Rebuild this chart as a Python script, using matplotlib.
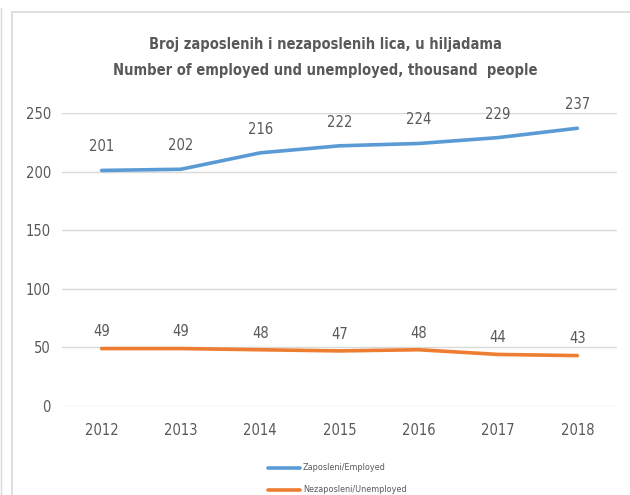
import matplotlib.pyplot as plt
from matplotlib.patches import Rectangle
from matplotlib.lines import Line2D

years = ['2012', '2013', '2014', '2015', '2016', '2017', '2018']
employed = [201, 202, 216, 222, 224, 229, 237]
unemployed = [49, 49, 48, 47, 48, 44, 43]

plt.rcParams['font.family'] = ['DejaVu Sans']
plt.rcParams['font.stretch'] = 'condensed'
grey = '#595959'
blue = '#5b9bd5'
orange = '#ed7d31'

fig = plt.figure(figsize=(6.3, 4.95), dpi=100)
ax = fig.add_axes([62/630, 1 - 406/495, 555/630, 293/495])

x = range(len(years))
ax.plot(x, employed, color=blue, linewidth=2.6, solid_capstyle='round')
ax.plot(x, unemployed, color=orange, linewidth=2.6, solid_capstyle='round')

for i in x:
    ax.annotate(str(employed[i]), (i, employed[i]), xytext=(0, 17), textcoords='offset points',
                ha='center', va='center', fontsize=10.5, color=grey)
    ax.annotate(str(unemployed[i]), (i, unemployed[i]), xytext=(0, 12), textcoords='offset points',
                ha='center', va='center', fontsize=10.5, color=grey)

ax.set_xlim(-0.5, len(years) - 0.5)
ax.set_ylim(0, 250)
ax.set_yticks([0, 50, 100, 150, 200, 250])
ax.set_xticks(list(x))
ax.set_xticklabels(years)
ax.tick_params(length=0, labelsize=10.5, labelcolor=grey)
ax.tick_params(axis='x', pad=12)
ax.tick_params(axis='y', pad=8)
ax.yaxis.grid(True, color='#d9d9d9', linewidth=1)
ax.set_axisbelow(True)
for s in ax.spines.values():
    s.set_visible(False)

fig.text(325/630, 1 - 44/495, 'Broj zaposlenih i nezaposlenih lica, u hiljadama',
         ha='center', va='center', fontsize=10.5, fontweight='bold', color=grey)
fig.text(325/630, 1 - 71/495, 'Number of employed und unemployed, thousand  people',
         ha='center', va='center', fontsize=10.5, fontweight='bold', color=grey)

# chart border
fig.patches.append(Rectangle((12/630, -0.1), 1.0, 1 - 12/495 + 0.1, transform=fig.transFigure,
                             fill=False, edgecolor='#d9d9d9', linewidth=1.2))
fig.lines.append(Line2D([1/630, 1/630], [0, 1 - 8/495], transform=fig.transFigure,
                        color='#d9d9d9', linewidth=1))

# legend, stacked under the plot
for label, col, yy in [('Zaposleni/Employed', blue, 468), ('Nezaposleni/Unemployed', orange, 490)]:
    fig.lines.append(Line2D([268/630, 300/630], [1 - yy/495, 1 - yy/495], transform=fig.transFigure,
                            color=col, linewidth=2.6, solid_capstyle='round'))
    fig.text(303/630, 1 - yy/495, label, ha='left', va='center', fontsize=6.5, color=grey)

fig.savefig('out.png', dpi=100)
